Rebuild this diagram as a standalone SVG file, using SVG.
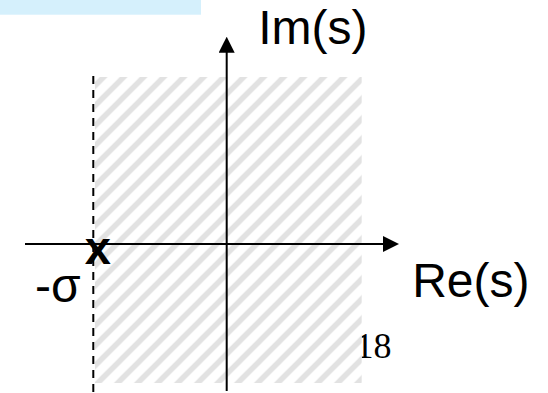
<svg xmlns="http://www.w3.org/2000/svg" width="548" height="393" viewBox="0 0 548 393">
  <style>
    .lbl { font-family: "Liberation Sans", Arial, sans-serif; font-size: 48px; fill: #000; }
    .axis { stroke: #000; stroke-width: 2; fill: none; }
    .dash { stroke: #000; stroke-width: 2; stroke-dasharray: 8 6; fill: none; }
  </style>
  <defs>
    <pattern id="hatch" patternUnits="userSpaceOnUse" x="0.7" y="0" width="20" height="20">
      <path d="M-5,5 L5,-5 M0,20 L20,0 M15,25 L25,15" stroke="#e2e2e2" stroke-width="5.5" fill="none"/>
    </pattern>
    <marker id="arrow" markerUnits="userSpaceOnUse" markerWidth="16" markerHeight="16" refX="8" refY="8" orient="auto">
      <path d="M0,0 L16,8 L0,16 z" fill="#000"/>
    </marker>
  </defs>

  <rect id="title-bar" x="0" y="0" width="201" height="14.7" fill="#d5f0fc"/>

  <text id="page-number" x="355.5" y="358.3" font-family="Liberation Serif, 'Times New Roman', serif" font-size="36" fill="#000">18</text>

  <g id="shaded-region">
    <rect x="95" y="77" width="266.7" height="306" fill="#fff"/>
    <rect x="95" y="77" width="266.7" height="306" fill="url(#hatch)"/>
  </g>

  <g id="connectors">
    <line id="boundary" class="dash" x1="93.3" y1="76" x2="93.3" y2="393"/>
    <line id="re-axis" class="axis" x1="25" y1="244" x2="391" y2="244" marker-end="url(#arrow)"/>
    <line id="im-axis" class="axis" x1="226.7" y1="391" x2="226.7" y2="44.7" marker-end="url(#arrow)"/>
  </g>

  <g id="pole">
    <text x="97.8" y="264" text-anchor="middle" font-family="Liberation Sans, Arial, sans-serif" font-weight="bold" font-size="47" fill="#000">x</text>
  </g>

  <g id="labels">
    <text id="im-label" class="lbl" x="258.2" y="44.3">Im(s)</text>
    <text id="re-label" class="lbl" x="412.2" y="296.7">Re(s)</text>
    <text id="sigma-label" class="lbl" x="35" y="302" font-size="47">-σ</text>
  </g>
</svg>
